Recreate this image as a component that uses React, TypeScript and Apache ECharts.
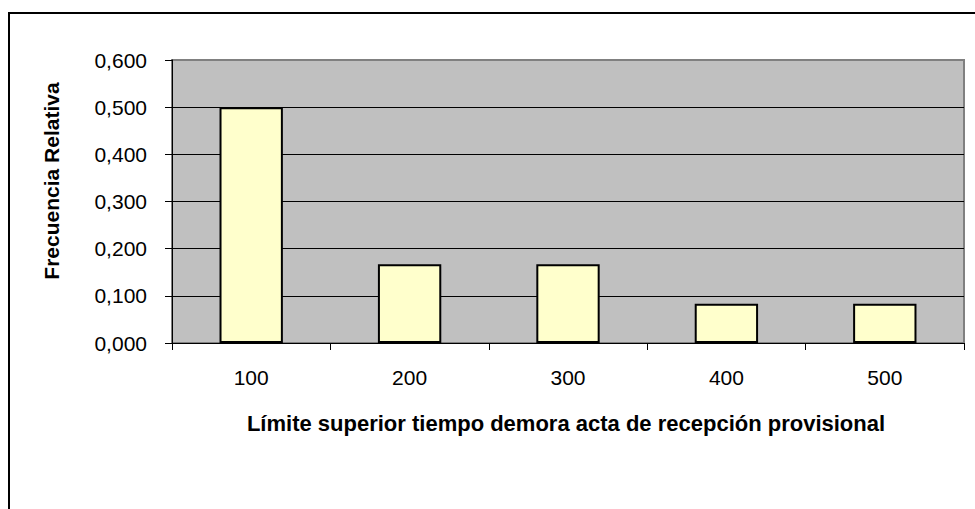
import React, { useEffect, useRef } from "react";
import * as echarts from "echarts";

const categories = ["100", "200", "300", "400", "500"];
const frecuenciaRelativa = [0.5, 0.1667, 0.1667, 0.0833, 0.0833];
const yTicks = [0, 0.1, 0.2, 0.3, 0.4, 0.5, 0.6];
const xTitle = "Límite superior tiempo demora acta de recepción provisional";
const yTitle = "Frecuencia Relativa";

const FONT = "'Liberation Sans', Arial, sans-serif";

export default function App() {
  const ref = useRef<HTMLDivElement>(null);
  useEffect(() => {
    if (!ref.current) return;
    const chart = echarts.init(ref.current, null, { renderer: "svg" });
    chart.setOption({
      animation: false,
      backgroundColor: "#ffffff",
      grid: {
        left: 172,
        top: 60,
        right: 11,
        bottom: 166,
        show: true,
        backgroundColor: "#C0C0C0",
        borderColor: "#808080",
        borderWidth: 2,
      },
      xAxis: {
        type: "category",
        data: categories,
        axisLine: { show: true, lineStyle: { color: "#000", width: 1 } },
        axisTick: { show: true, length: 7, lineStyle: { color: "#000", width: 1 } },
        axisLabel: { color: "#000", fontSize: 21, fontFamily: FONT, margin: 24 },
        splitLine: { show: false },
      },
      yAxis: {
        type: "value",
        min: 0,
        max: yTicks[yTicks.length - 1],
        interval: 0.1,
        axisLine: { show: true, lineStyle: { color: "#000", width: 1 } },
        axisTick: { show: true, length: 7, lineStyle: { color: "#000", width: 1 } },
        axisLabel: {
          color: "#000",
          fontSize: 21,
          fontFamily: FONT,
          margin: 25,
          formatter: (v: number) => v.toFixed(3).replace(".", ","),
        },
        splitLine: {
          show: true,
          lineStyle: {
            color: ["#000", "#000", "#000", "#000", "#000", "#000", "#808080"],
            width: 1,
          },
        },
      },
      series: [
        {
          type: "bar",
          data: frecuenciaRelativa,
          barWidth: "40%",
          itemStyle: { color: "#FFFFCC", borderColor: "#000", borderWidth: 2 },
        },
      ],
      graphic: [
        {
          type: "rect",
          shape: { x: 9, y: 13, width: 1200, height: 1000 },
          style: { fill: "none", stroke: "#000", lineWidth: 2 },
          silent: true,
          z: 100,
        },
        {
          type: "text",
          x: 566,
          y: 423,
          style: {
            text: xTitle,
            fontSize: 22,
            fontWeight: "bold",
            fontFamily: FONT,
            fill: "#000",
            align: "center",
            verticalAlign: "middle",
          },
        },
        {
          type: "text",
          x: 51,
          y: 181,
          rotation: Math.PI / 2,
          style: {
            text: yTitle,
            fontSize: 21,
            fontWeight: "bold",
            fontFamily: FONT,
            fill: "#000",
            align: "center",
            verticalAlign: "middle",
          },
        },
      ],
    });
    return () => chart.dispose();
  }, []);
  return (
    <div
      ref={ref}
      style={{ position: "fixed", left: 0, top: 0, width: 975, height: 509 }}
    />
  );
}
